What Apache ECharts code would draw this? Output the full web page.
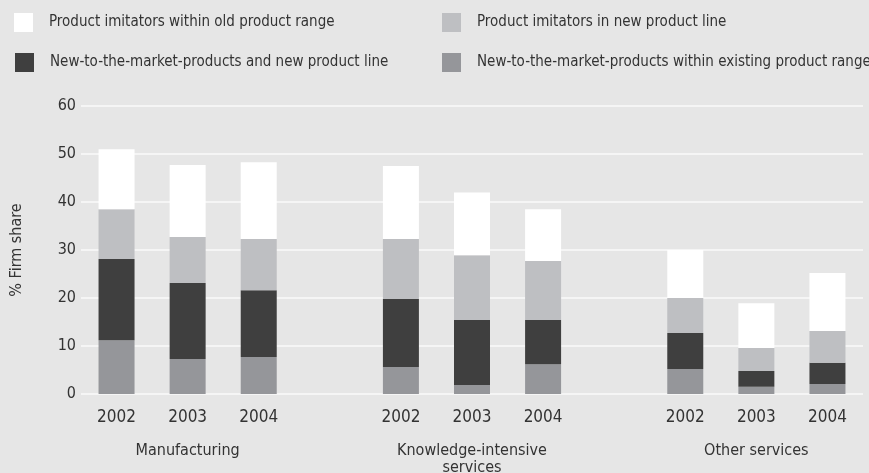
<!DOCTYPE html>
<html><head><meta charset="utf-8">
<script src="https://cdn.jsdelivr.net/npm/echarts@6/dist/echarts.min.js"></script>
<style>html,body{margin:0;padding:0;background:#e6e6e6;}#c{width:869px;height:473px;}</style>
</head><body><div id="c"></div>
<script>
const years = ['2002','2003','2004','','2002','2003','2004','','2002','2003','2004'];
const groups = ['','Manufacturing','','','','Knowledge-intensive\nservices','','','','Other services',''];
const seriesNames = [
  'New-to-the-market-products within existing product range',
  'New-to-the-market-products and new product line',
  'Product imitators in new product line',
  'Product imitators within old product range'
];
const newExisting = [11.2, 7.3, 7.7, '-', 5.6, 1.9, 6.2, '-', 5.2, 1.5, 2.1];
const newLine     = [16.9, 15.8, 13.9, '-', 14.2, 13.5, 9.2, '-', 7.5, 3.3, 4.4];
const imitNew     = [10.4, 9.6, 10.7, '-', 12.5, 13.5, 12.3, '-', 7.3, 4.8, 6.6];
const imitOld     = [12.5, 15.0, 16.0, '-', 15.2, 13.1, 10.8, '-', 10.0, 9.3, 12.1];
const yTicks = [0, 10, 20, 30, 40, 50, 60];

const FONT = '"Liberation Sans Narrow","DejaVu Sans Condensed","Open Sans",sans-serif';
const colors = ['#95969a', '#3f3f3f', '#bebfc2', '#ffffff'];
const dataArr = [newExisting, newLine, imitNew, imitOld];

const chart = echarts.init(document.getElementById('c'), null, {renderer:'canvas'});
function legendAt(name, left, top) {
  return {
    data: [name], left: left, top: top, orient: 'horizontal',
    icon: 'rect', itemWidth: 19, itemHeight: 19, padding: 0,
    selectedMode: false,
    textStyle: {fontFamily: FONT, fontSize: 15, color: '#333', padding: [0,0,0,11]}
  };
}
chart.setOption({
  backgroundColor: '#e6e6e6',
  animation: false,
  color: colors,
  legend: [
    legendAt(seriesNames[3], 14, 13),
    legendAt(seriesNames[2], 442, 13),
    legendAt(seriesNames[1], 15, 53),
    legendAt(seriesNames[0], 442, 53)
  ],
  grid: {left: 81, right: 6, top: 106, bottom: 79, containLabel: false, outerBoundsMode: 'none'},
  xAxis: [{
    type: 'category', data: years, position: 'bottom',
    axisLine: {show: false}, axisTick: {show: false},
    axisLabel: {interval: 0, margin: 15, fontFamily: FONT, fontSize: 17, color: '#333'}
  }, {
    type: 'category', data: groups, position: 'bottom', offset: 36,
    axisLine: {show: false}, axisTick: {show: false},
    axisLabel: {interval: 0, margin: 12, fontFamily: FONT, fontSize: 16, color: '#333', lineHeight: 17, verticalAlign: 'top'}
  }],
  yAxis: {
    type: 'value', min: 0, max: 60, interval: 10,
    name: '% Firm share', nameLocation: 'middle', nameGap: 56,
    nameTextStyle: {fontFamily: FONT, fontSize: 16, color: '#333'},
    axisLine: {show: false}, axisTick: {show: false},
    axisLabel: {margin: 5, fontFamily: FONT, fontSize: 16, color: '#333',
      formatter: v => yTicks.includes(v) ? String(v) : ''},
    splitLine: {lineStyle: {color: '#f5f5f5', width: 2}}
  },
  series: dataArr.map((d, i) => ({
    name: seriesNames[i], type: 'bar', stack: 'all', data: d,
    barWidth: 36, xAxisIndex: 0,
    itemStyle: {color: colors[i]}
  }))
});
</script></body></html>
